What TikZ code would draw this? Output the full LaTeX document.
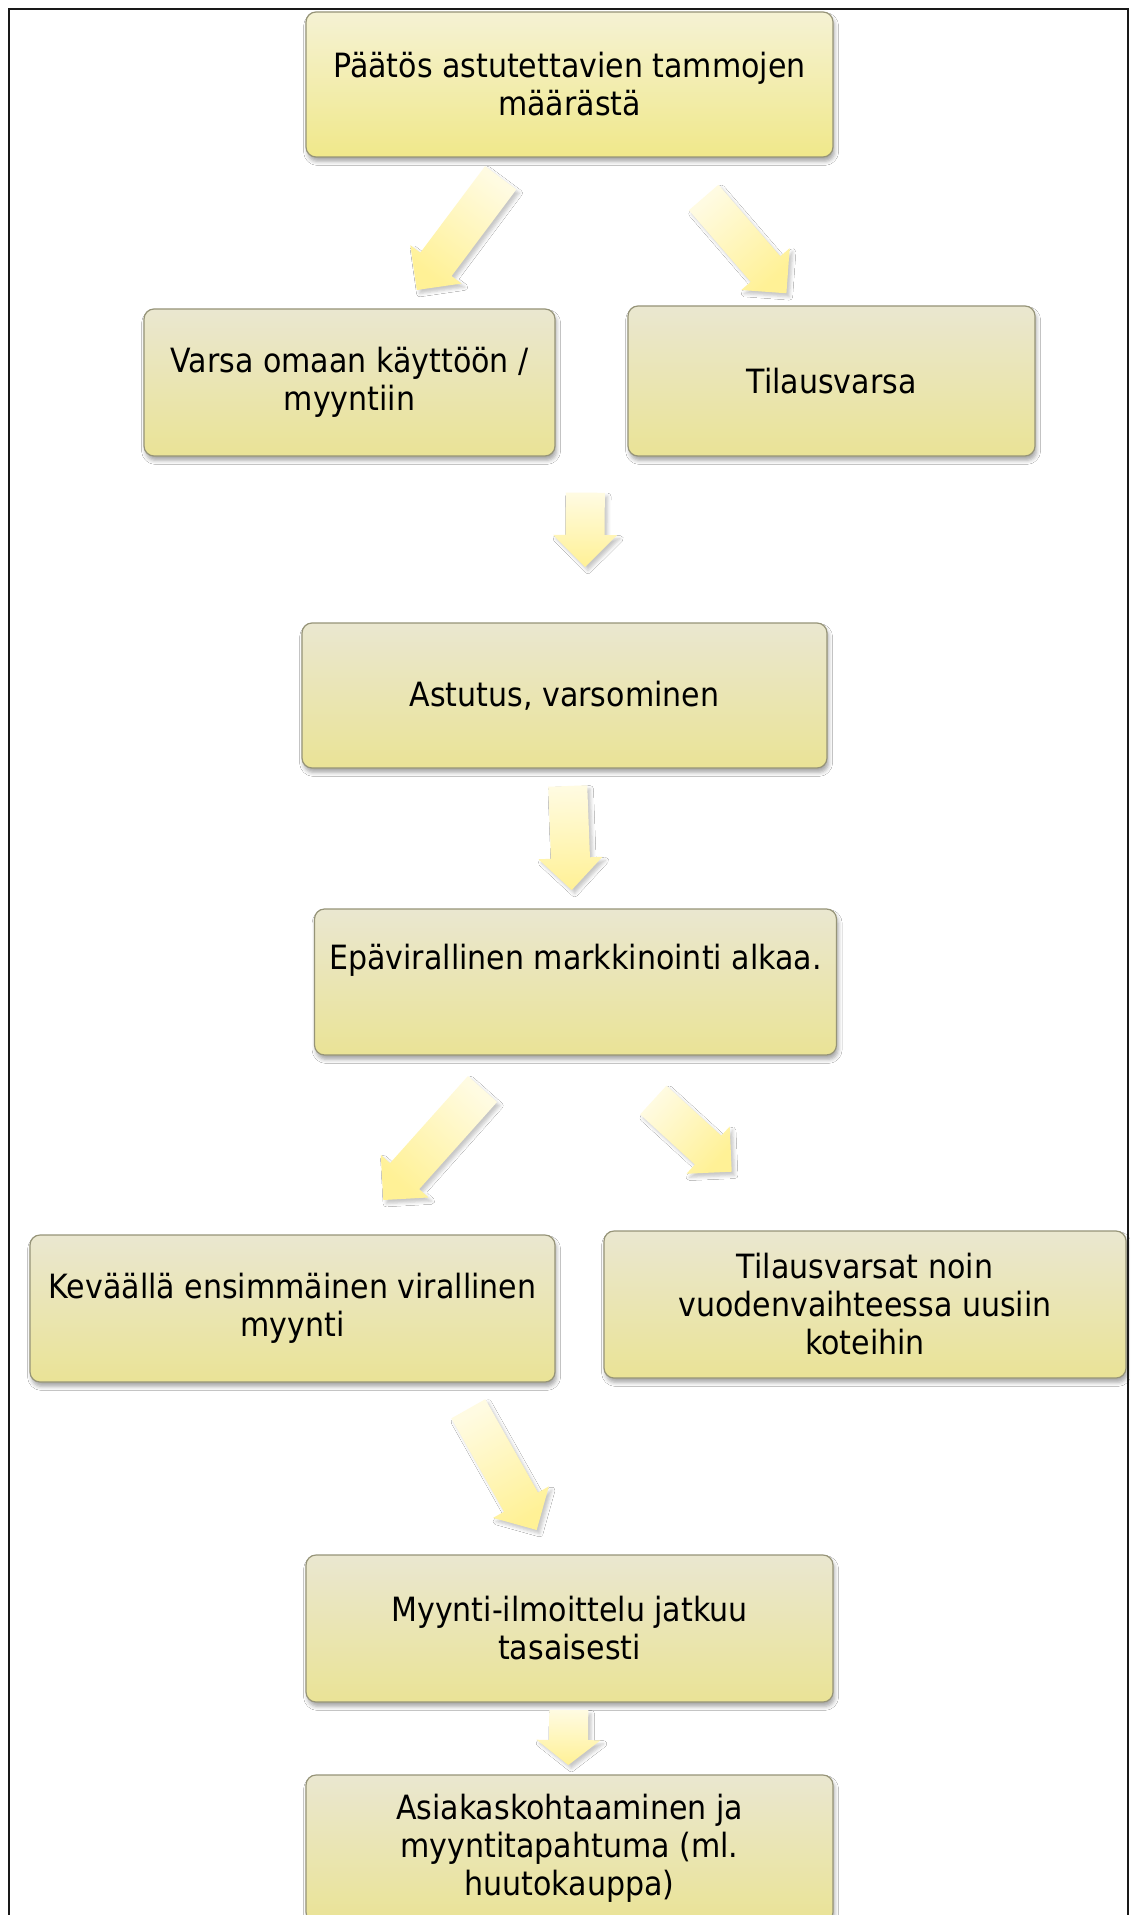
\documentclass[tikz,border=0pt]{standalone}
\usepackage{fontspec}
\newfontfamily\bxfont[FakeStretch=0.9]{DejaVu Sans}
\usetikzlibrary{calc,shadows.blur}
\definecolor{boxline}{RGB}{150,148,120}
\definecolor{boxtopA}{RGB}{245,242,212}
\definecolor{boxbotA}{RGB}{240,232,138}
\definecolor{boxtopB}{RGB}{234,231,208}
\definecolor{boxbotB}{RGB}{234,227,150}
\definecolor{arrtop}{RGB}{255,251,226}
\definecolor{arrbot}{RGB}{255,241,150}
\definecolor{framecol}{RGB}{25,25,25}
% block arrow: #1 head length, #2 tail coordinate, #3 tip coordinate
\newcommand\bkarrow[3][16pt]{%
  \pgfmathanglebetweenpoints{\pgfpointanchor{#2}{center}}{\pgfpointanchor{#3}{center}}%
  \let\bkraw\pgfmathresult
  \pgfmathsetmacro\bkang{\bkraw+90}%
  \coordinate (#2b) at ($(#3)!#1!(#2)$);
  \shade[arrowfill, shading angle=\bkang]
    ($(#2)!9.75pt!90:(#3)$) -- ($(#2b)!9.75pt!90:(#3)$) -- ($(#2b)!16pt!90:(#3)$)
    -- (#3) -- ($(#2b)!16pt!-90:(#3)$) -- ($(#2b)!9.75pt!-90:(#3)$)
    -- ($(#2)!9.75pt!-90:(#3)$) -- cycle;
}
\begin{document}
\begin{tikzpicture}[x=0.5pt,y=-0.5pt,
  box/.style={draw=boxline, line width=0.6pt, rounded corners=5pt,
    top color=boxtopB, bottom color=boxbotB, align=center, inner sep=0pt,
    font=\bxfont\fontsize{16.7pt}{19pt}\selectfont,
    blur shadow={shadow xshift=0.8pt, shadow yshift=-2.2pt, shadow blur radius=2pt, shadow opacity=35}},
  boxA/.style={box, top color=boxtopA, bottom color=boxbotA},
  arrowfill/.style={top color=arrtop, bottom color=arrbot,
    blur shadow={shadow xshift=1.5pt, shadow yshift=-1.8pt, shadow blur radius=1.6pt, shadow opacity=22}}
]
\path[use as bounding box] (0,0) rectangle (1130,1915);
\fill[white] (0,0) rectangle (1130,1915);
\clip (0,0) rectangle (1130,1915);

\node[boxA, minimum width=263.5pt, minimum height=72.5pt] (n1) at (569.5,84.5) {Päätös astutettavien tammojen\\määrästä};
\node[box, minimum width=205.5pt, minimum height=73.5pt] (n2) at (349.5,382.5) {Varsa omaan käyttöön /\\myyntiin};
\node[box, minimum width=203.5pt, minimum height=75pt] (n3) at (831.5,381) {Tilausvarsa};
\node[box, minimum width=262.5pt, minimum height=72.5pt] (n4) at (564.5,695.5) {Astutus, varsominen};
\node[box, minimum width=261pt, minimum height=73pt] (n5) at (575.5,982) {Epävirallinen markkinointi alkaa.\\[6pt]\mbox{}};
\node[box, minimum width=262.5pt, minimum height=73.5pt] (n6) at (292.5,1308.5) {Keväällä ensimmäinen virallinen\\myynti};
\node[box, minimum width=261pt, minimum height=73.5pt] (n7) at (865,1304.5) {Tilausvarsat noin\\vuodenvaihteessa uusiin\\koteihin};
\node[box, minimum width=263.5pt, minimum height=73.5pt] (n8) at (569.5,1628.5) {Myynti-ilmoittelu jatkuu\\tasaisesti};
\node[box, minimum width=263.5pt, minimum height=73.5pt] (n9) at (569.5,1848.5) {Asiakaskohtaaminen ja\\myyntitapahtuma (ml.\\huutokauppa)};

\coordinate (a1t) at (500.7,177.8); \coordinate (a1h) at (416.8,290);
\coordinate (a2t) at (703.7,197.5); \coordinate (a2h) at (786.4,293.3);
\coordinate (a3t) at (585.3,492.7); \coordinate (a3h) at (585,567);
\coordinate (a4t) at (567.7,786);   \coordinate (a4h) at (571.7,890);
\coordinate (a5t) at (482.5,1089);  \coordinate (a5h) at (383.3,1200);
\coordinate (a6t) at (653.3,1100);  \coordinate (a6h) at (731.7,1171.7);
\coordinate (a7t) at (468.3,1408.8); \coordinate (a7h) at (536.7,1530);
\coordinate (a8t) at (568.8,1710);  \coordinate (a8h) at (568.3,1765);

\bkarrow{a1t}{a1h}
\bkarrow{a2t}{a2h}
\bkarrow{a3t}{a3h}
\bkarrow{a4t}{a4h}
\bkarrow{a5t}{a5h}
\bkarrow{a6t}{a6h}
\bkarrow{a7t}{a7h}
\bkarrow[12.5pt]{a8t}{a8h}

\draw[framecol, line width=1.4pt] (9,1960) -- (9,9) -- (1128,9) -- (1128,1960);
\end{tikzpicture}
\end{document}
